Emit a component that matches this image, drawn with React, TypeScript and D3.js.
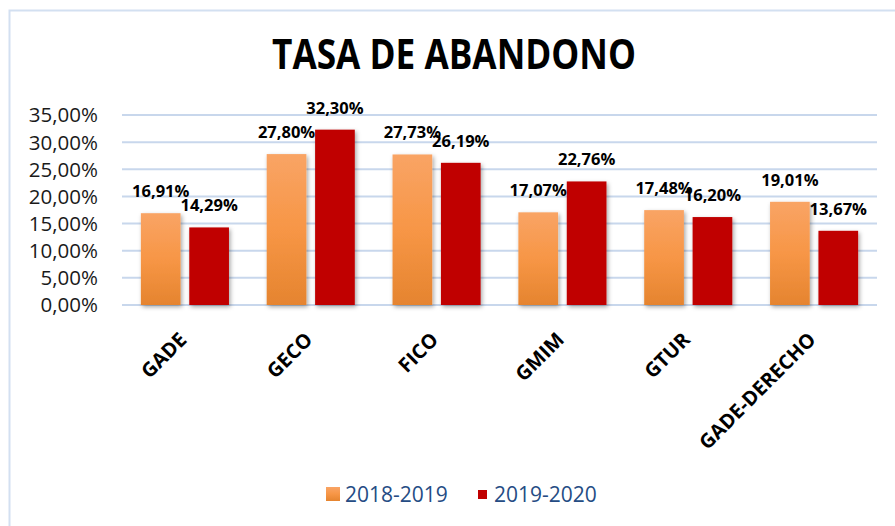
import React from "react";
import * as d3 from "d3";

const categories = ["GADE", "GECO", "FICO", "GMIM", "GTUR", "GADE-DERECHO"];
const series = ["2018-2019", "2019-2020"];
const values2018 = [16.91, 27.8, 27.73, 17.07, 17.48, 19.01];
const values2020 = [14.29, 32.3, 26.19, 22.76, 16.2, 13.67];
const yTicks = [0, 5, 10, 15, 20, 25, 30, 35];
const title = "TASA DE ABANDONO";

const W = 895;
const H = 526;
const fmt = (v: number) => v.toFixed(2).replace(".", ",") + "%";

export default function App() {
  const x0 = d3.scaleBand<string>().domain(categories).range([122, 877]).paddingInner(0.3).paddingOuter(0.15);
  const x1 = d3.scaleBand<string>().domain(series).range([0, x0.bandwidth()]).paddingInner(0.18);
  const y = d3.scaleLinear().domain([0, 35]).range([305, 115]);
  const plotLeft = 122;
  const plotRight = 877;
  const font = "'Open Sans', sans-serif";
  const data = categories.map((c, i) => ({ c, vals: [values2018[i], values2020[i]] }));

  return (
    <svg width={W} height={H} style={{ position: "absolute", left: 0, top: 0, background: "#fff" }}>
      <defs>
        <linearGradient id="orangeGrad" x1="0" y1="0" x2="0" y2="1">
          <stop offset="0%" stopColor="#F9A465" />
          <stop offset="50%" stopColor="#F79646" />
          <stop offset="100%" stopColor="#E5842F" />
        </linearGradient>
        <filter id="shadow" x="-30%" y="-10%" width="160%" height="120%">
          <feDropShadow dx="1.5" dy="2" stdDeviation="2.2" floodColor="#000" floodOpacity="0.35" />
        </filter>
      </defs>
      <rect x={0} y={0} width={W} height={H} fill="#fff" />
      {/* chart border */}
      <path d={`M9.5,${H} L9.5,10.5 L${W},10.5`} fill="none" stroke="#D3E0F1" strokeWidth={2} />

      <text x={454} y={69} textAnchor="middle" fontFamily={font} fontWeight={700} fontSize={42}
        textLength={364} lengthAdjust="spacingAndGlyphs" fill="#000">{title}</text>

      {/* gridlines */}
      {yTicks.map((t) => (
        <line key={t} x1={plotLeft} x2={plotRight} y1={y(t)} y2={y(t)} stroke="#C8D7EC" strokeWidth={2} />
      ))}
      {yTicks.map((t) => (
        <text key={"l" + t} x={98} y={y(t)} dy="0.36em" textAnchor="end" fontFamily={font} fontSize={20.5} fill="#1a1a1a">
          {fmt(t)}
        </text>
      ))}

      {/* bars */}
      {data.map((d) => (
        <g key={d.c} transform={`translate(${x0(d.c)},0)`}>
          {d.vals.map((v, j) => (
            <rect key={j} x={x1(series[j])} y={y(v)} width={x1.bandwidth()} height={y(0) - y(v)}
              fill={j === 0 ? "url(#orangeGrad)" : "#C00000"} filter="url(#shadow)" />
          ))}
        </g>
      ))}
      {/* labels */}
      {data.map((d) => (
        <g key={"t" + d.c} transform={`translate(${x0(d.c)},0)`}>
          {d.vals.map((v, j) => (
            <text key={j} x={(x1(series[j]) as number) + x1.bandwidth() / 2} y={y(v) - 16} textAnchor="middle"
              fontFamily={font} fontWeight={700} fontSize={16.5} fill="#000">{fmt(v)}</text>
          ))}
        </g>
      ))}
      {/* category labels */}
      {categories.map((c) => {
        const cx = (x0(c) as number) + x0.bandwidth() / 2 + 3;
        return (
          <text key={"c" + c} transform={`translate(${cx},341) rotate(-45)`} textAnchor="end"
            fontFamily={font} fontWeight={700} fontSize={20} fill="#000">{c}</text>
        );
      })}

      {/* legend */}
      <rect x={326} y={487} width={14} height={14} fill="url(#orangeGrad)" />
      <text x={345} y={502} fontFamily={font} fontSize={21} fill="#254C84">{series[0]}</text>
      <rect x={478} y={490} width={9} height={9} fill="#C00000" />
      <text x={494} y={502} fontFamily={font} fontSize={21} fill="#254C84">{series[1]}</text>
    </svg>
  );
}
